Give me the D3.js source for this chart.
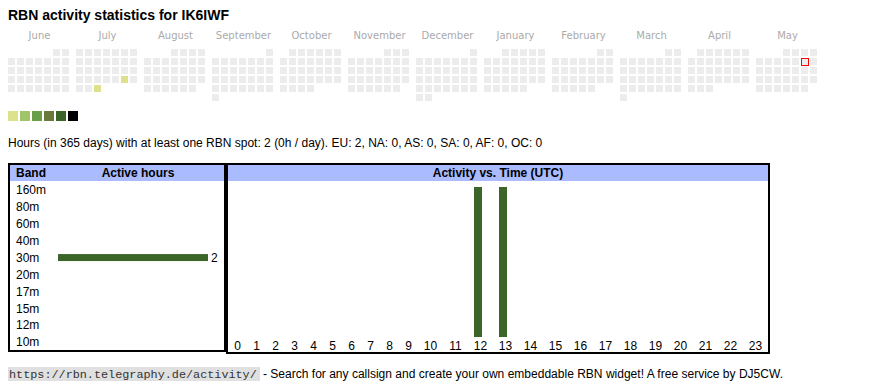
<!DOCTYPE html>
<html><head><meta charset="utf-8">
<script src="https://cdn.jsdelivr.net/npm/d3@7"></script>
<style>
html,body{margin:0;padding:0;background:#fff;}
svg{display:block;}
</style></head>
<body>
<svg id="chart" width="870" height="390"></svg>
<script>
// ---- data ----
const callsign = "IK6IWF";
const monthNames = ["June","July","August","September","October","November","December","January","February","March","April","May"];
const monthStarts = ["2024-06-01","2024-07-01","2024-08-01","2024-09-01","2024-10-01","2024-11-01","2024-12-01","2025-01-01","2025-02-01","2025-03-01","2025-04-01","2025-05-01"];
const activeDays = ["2024-07-27","2024-07-31"];
const activeDayLevels = [1,1];
const today = "2025-05-10";
const levelColors = ["#dce28c","#a0c468","#6a9e46","#68793a","#3b6428","#000000"];
const bands = ["160m","80m","60m","40m","30m","20m","17m","15m","12m","10m"];
const bandHours = [0,0,0,0,2,0,0,0,0,0];
const hours = d3.range(24).map(String);
const hourActivity = [0,0,0,0,0,0,0,0,0,0,0,0,1,1,0,0,0,0,0,0,0,0,0,0];
const summary = "Hours (in 365 days) with at least one RBN spot: 2 (0h / day). EU: 2, NA: 0, AS: 0, SA: 0, AF: 0, OC: 0";
const footerUrl = "https://rbn.telegraphy.de/activity/";
const footerText = "- Search for any callsign and create your own embeddable RBN widget! A free service by DJ5CW.";

const svg = d3.select("#chart");
const SANS = "'Liberation Sans', Arial, Helvetica, sans-serif";
const barColor = "#3c6629";
const headBlue = "#aabbff";

// title
svg.append("text").attr("x", 8).attr("y", 20)
  .attr("font-family", SANS).attr("font-weight", "bold").attr("font-size", 14)
  .text("RBN activity statistics for " + callsign);

// ---- calendar ----
const parse = d3.utcParse("%Y-%m-%d");
const fmt = d3.utcFormat("%Y-%m-%d");
const activeMap = new Map(activeDays.map((d, i) => [d, activeDayLevels[i]]));
const monthX = d3.scaleLinear().domain([0, 1]).range([8, 76]);
const cal = svg.append("g");
monthStarts.forEach((ms, m) => {
  const start = parse(ms);
  const end = d3.utcMonth.offset(start, 1);
  const days = d3.utcDays(start, end);
  const off = (start.getUTCDay() + 6) % 7;
  const x0 = monthX(m);
  cal.append("text").attr("x", x0 + 31.5).attr("y", 39)
    .attr("text-anchor", "middle").attr("font-family", "'DejaVu Sans', sans-serif")
    .attr("font-size", 10).attr("fill", "#aaaaaa").text(monthNames[m]);
  cal.selectAll(null).data(days).enter().append("rect")
    .attr("x", d => x0 + 9 * ((d.getUTCDay() + 6) % 7))
    .attr("y", d => 49 + 9 * Math.floor((d.getUTCDate() - 1 + off) / 7))
    .attr("width", 7).attr("height", 7)
    .attr("fill", d => activeMap.has(fmt(d)) ? levelColors[activeMap.get(fmt(d)) - 1] : "#ececec");
  const td = days.find(d => fmt(d) === today);
  if (td) {
    cal.append("rect")
      .attr("x", x0 + 9 * ((td.getUTCDay() + 6) % 7) + 0.5)
      .attr("y", 49 + 9 * Math.floor((td.getUTCDate() - 1 + off) / 7) + 0.5)
      .attr("width", 7).attr("height", 7)
      .attr("fill", "#ececec").attr("stroke", "#ff0000").attr("stroke-width", 1);
  }
});
// legend
svg.selectAll(null).data(levelColors).enter().append("rect")
  .attr("x", (d, i) => 8 + 12 * i).attr("y", 111).attr("width", 10).attr("height", 10)
  .attr("fill", d => d);

// summary
svg.append("text").attr("x", 8).attr("y", 146.5)
  .attr("font-family", SANS).attr("font-size", 12).text(summary);

// ---- band table ----
const tableTop = 163;
const left = svg.append("g");
left.append("rect").attr("x", 9).attr("y", 165).attr("width", 216).attr("height", 16).attr("fill", headBlue);
left.append("rect").attr("x", 9).attr("y", tableTop + 1).attr("width", 216).attr("height", 187)
  .attr("fill", "none").attr("stroke", "#000").attr("stroke-width", 2);
left.append("text").attr("x", 16).attr("y", 177).attr("font-family", SANS).attr("font-weight", "bold").attr("font-size", 12).text("Band");
left.append("text").attr("x", 138).attr("y", 177).attr("text-anchor", "middle").attr("font-family", SANS).attr("font-weight", "bold").attr("font-size", 12).text("Active hours");

const yBand = d3.scalePoint().domain(bands).range([190, 342]);
const xBand = d3.scaleLinear().domain([0, d3.max(bandHours)]).range([58, 208]);
left.selectAll(null).data(bands).enter().append("text")
  .attr("x", 16).attr("y", d => yBand(d) + 4.3)
  .attr("font-family", SANS).attr("font-size", 12).text(d => d);
const bandData = bands.map((b, i) => ({band: b, v: bandHours[i]})).filter(d => d.v > 0);
left.selectAll(null).data(bandData).enter().append("rect")
  .attr("x", xBand(0)).attr("y", d => yBand(d.band) - 3.5)
  .attr("width", d => xBand(d.v) - xBand(0)).attr("height", 7).attr("fill", barColor);
left.selectAll(null).data(bandData).enter().append("text")
  .attr("x", d => xBand(d.v) + 3).attr("y", d => yBand(d.band) + 4.3)
  .attr("font-family", SANS).attr("font-size", 12).text(d => d.v);

// ---- hour table ----
const right = svg.append("g");
right.append("rect").attr("x", 227).attr("y", 165).attr("width", 542).attr("height", 16).attr("fill", headBlue);
right.append("rect").attr("x", 227).attr("y", tableTop + 1).attr("width", 542).attr("height", 189)
  .attr("fill", "none").attr("stroke", "#000").attr("stroke-width", 2);
right.append("text").attr("x", 498).attr("y", 177).attr("text-anchor", "middle")
  .attr("font-family", SANS).attr("font-weight", "bold").attr("font-size", 12).text("Activity vs. Time (UTC)");

// column widths sized to label length (like table cells)
let acc = 228;
const centers = hours.map(h => { const w = 6 * h.length + 13; const c = acc + w / 2; acc += w; return c; });
const xHour = d3.scaleOrdinal().domain(hours).range(centers);
const yHour = d3.scaleLinear().domain([0, d3.max(hourActivity)]).range([337, 187]);
right.selectAll(null).data(hours).enter().append("text")
  .attr("x", d => xHour(d)).attr("y", 350).attr("text-anchor", "middle")
  .attr("font-family", SANS).attr("font-size", 12).text(d => d);
const hourData = hours.map((h, i) => ({h, v: hourActivity[i]})).filter(d => d.v > 0);
right.selectAll(null).data(hourData).enter().append("rect")
  .attr("x", d => xHour(d.h) - 6.5).attr("y", d => yHour(d.v))
  .attr("width", 8).attr("height", d => yHour(0) - yHour(d.v)).attr("fill", barColor);

// ---- footer ----
svg.append("rect").attr("x", 8).attr("y", 367).attr("width", 252).attr("height", 14).attr("fill", "#e0e0e0");
svg.append("text").attr("x", 9).attr("y", 378).attr("font-family", "'Liberation Mono', 'DejaVu Sans Mono', monospace")
  .attr("font-size", 11.8).attr("fill", "#333").text(footerUrl);
svg.append("text").attr("x", 263).attr("y", 378).attr("font-family", SANS)
  .attr("font-size", 12).attr("textLength", 520).attr("lengthAdjust", "spacingAndGlyphs")
  .text(footerText);
</script>
</body></html>
